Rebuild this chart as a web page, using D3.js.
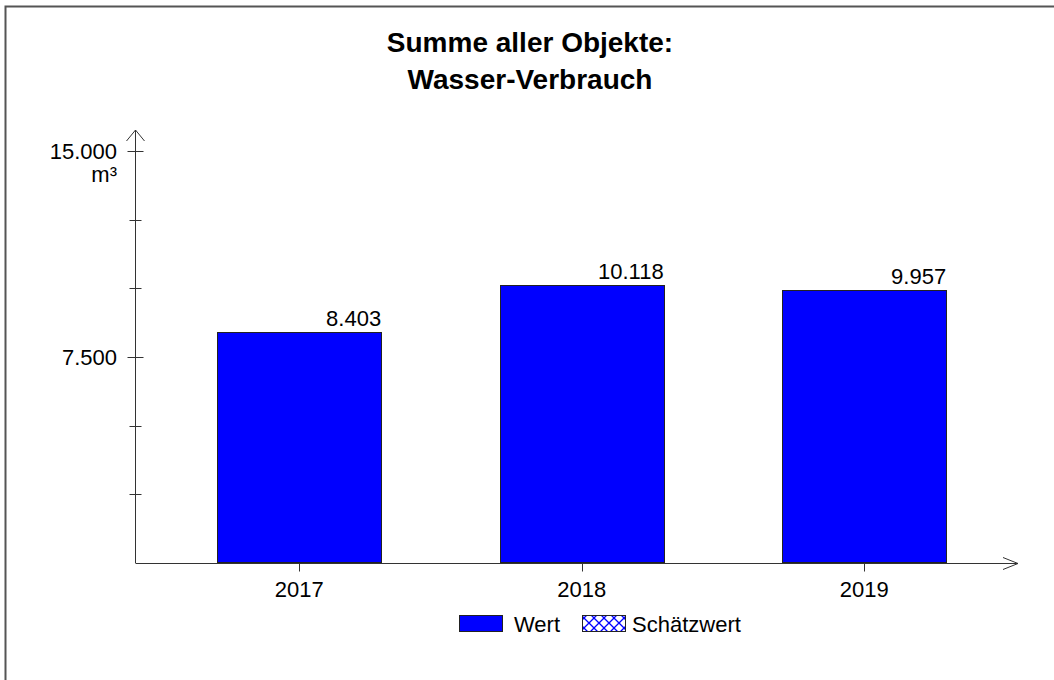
<!DOCTYPE html>
<html lang="de">
<head>
  <meta charset="utf-8">
  <title>Wasser-Verbrauch</title>
  <script src="https://d3js.org/d3.v7.min.js"></script>
  <style>
    body { margin: 0; background: #fff; }
    text { font-family: Arial, "Liberation Sans", sans-serif; fill: #000; }
  </style>
</head>
<body>
  <script>
    // Daten
    var years = ['2017', '2018', '2019'];
    var values = [8403, 10118, 9957];
    var majorTicks = [7500, 15000];
    var minorTicks = [2500, 5000, 10000, 12500];
    var titleLines = ['Summe aller Objekte:', 'Wasser-Verbrauch'];
    var legendItems = ['Wert', 'Schätzwert'];

    var w = 1054, h = 680;
    var fs = '22px';
    var fmt = function(v) { return d3.format(',')(v).replace(/,/g, '.'); };

    var svg = d3.select('body').append('svg')
      .attr('width', w)
      .attr('height', h);

    // Schraffur fuer Schaetzwert
    var pat = svg.append('defs').append('pattern')
      .attr('id', 'hatch')
      .attr('patternUnits', 'userSpaceOnUse')
      .attr('x', 2).attr('y', 3)
      .attr('width', 10).attr('height', 10);
    pat.append('rect').attr('width', 10).attr('height', 10).attr('fill', '#fff');
    pat.append('path').attr('d', 'M0,0L10,10M10,0L0,10')
      .attr('stroke', '#0000ff').attr('stroke-width', 1.3);

    // Rahmen
    svg.append('rect')
      .attr('x', 5.5).attr('y', 6.5)
      .attr('width', 1100).attr('height', 700)
      .attr('fill', 'none')
      .attr('stroke', '#555')
      .attr('stroke-width', 2);

    // Titel
    svg.selectAll('.title')
      .data(titleLines)
    .enter().append('text')
      .attr('class', 'title')
      .attr('x', 530)
      .attr('y', function(d, i) { return 52 + i * 37; })
      .attr('text-anchor', 'middle')
      .style('font-size', '28px')
      .style('font-weight', 'bold')
      .text(function(d) { return d; });

    var x = d3.scaleBand()
      .domain(years)
      .range([158, 1005.5])
      .paddingInner(0.42)
      .paddingOuter(0.21);

    var y = d3.scaleLinear()
      .domain([0, 15000])
      .range([563, 151]);

    var ax = 135.5;
    var axisColor = '#333';

    // Balken
    svg.selectAll('.bar')
      .data(values)
    .enter().append('rect')
      .attr('class', 'bar')
      .attr('x', function(d, i) { return Math.round(x(years[i])) + 0.5; })
      .attr('y', function(d) { return Math.round(y(d)) + 0.5; })
      .attr('width', Math.round(x.bandwidth()))
      .attr('height', function(d) { return Math.round(y(0)) - Math.round(y(d)) - 1; })
      .attr('fill', '#0000ff')
      .attr('stroke', '#222')
      .attr('stroke-width', 1);

    // Werte
    svg.selectAll('.val')
      .data(values)
    .enter().append('text')
      .attr('class', 'val')
      .attr('x', function(d, i) { return x(years[i]) + x.bandwidth(); })
      .attr('y', function(d) { return y(d) - 6; })
      .attr('text-anchor', 'end')
      .style('font-size', fs)
      .text(function(d) { return fmt(d); });

    // Y-Achse
    svg.append('line')
      .attr('x1', ax).attr('x2', ax)
      .attr('y1', y(0)).attr('y2', 130)
      .attr('stroke', axisColor);
    svg.append('path')
      .attr('d', 'M' + (ax - 9) + ',141L' + ax + ',130L' + (ax + 9) + ',141')
      .attr('fill', 'none').attr('stroke', axisColor);

    svg.selectAll('.major')
      .data(majorTicks)
    .enter().append('line')
      .attr('x1', ax - 8).attr('x2', ax + 8)
      .attr('y1', function(d) { return Math.round(y(d)) + 0.5; })
      .attr('y2', function(d) { return Math.round(y(d)) + 0.5; })
      .attr('stroke', axisColor);

    svg.selectAll('.minor')
      .data(minorTicks)
    .enter().append('line')
      .attr('x1', ax - 6).attr('x2', ax + 6)
      .attr('y1', function(d) { return Math.round(y(d)) + 0.5; })
      .attr('y2', function(d) { return Math.round(y(d)) + 0.5; })
      .attr('stroke', axisColor);

    svg.selectAll('.ylab')
      .data(majorTicks)
    .enter().append('text')
      .attr('class', 'ylab')
      .attr('x', 117)
      .attr('y', function(d) { return y(d) + 8; })
      .attr('text-anchor', 'end')
      .style('font-size', fs)
      .text(function(d) { return fmt(d); });

    svg.append('text')
      .attr('x', 117).attr('y', 182)
      .attr('text-anchor', 'end')
      .style('font-size', fs)
      .text('m³');

    // X-Achse
    var y0 = Math.round(y(0)) + 0.5;
    svg.append('line')
      .attr('x1', ax).attr('x2', 1018)
      .attr('y1', y0).attr('y2', y0)
      .attr('stroke', axisColor);
    svg.append('path')
      .attr('d', 'M1003,' + (y0 - 6) + 'L1018,' + y0 + 'L1003,' + (y0 + 6))
      .attr('fill', 'none').attr('stroke', axisColor);

    svg.selectAll('.xtick')
      .data(years)
    .enter().append('line')
      .attr('x1', function(d) { return Math.round(x(d) + x.bandwidth() / 2) + 0.5; })
      .attr('x2', function(d) { return Math.round(x(d) + x.bandwidth() / 2) + 0.5; })
      .attr('y1', y0).attr('y2', y0 + 8)
      .attr('stroke', axisColor);

    svg.selectAll('.xlab')
      .data(years)
    .enter().append('text')
      .attr('class', 'xlab')
      .attr('x', function(d) { return x(d) + x.bandwidth() / 2; })
      .attr('y', 597)
      .attr('text-anchor', 'middle')
      .style('font-size', fs)
      .text(function(d) { return d; });

    // Legende
    var legX = [459, 582];
    var leg = svg.selectAll('.leg')
      .data(legendItems)
    .enter().append('g')
      .attr('class', 'leg')
      .attr('transform', function(d, i) { return 'translate(' + legX[i] + ',615)'; });
    leg.append('rect')
      .attr('x', 0.5).attr('y', 0.5)
      .attr('width', 43).attr('height', 16)
      .attr('fill', function(d, i) { return i === 0 ? '#0000ff' : 'url(#hatch)'; })
      .attr('stroke', '#222');
    leg.append('text')
      .attr('x', function(d, i) { return i === 0 ? 55 : 50; })
      .attr('y', 17)
      .style('font-size', fs)
      .text(function(d) { return d; });
  </script>
</body>
</html>
